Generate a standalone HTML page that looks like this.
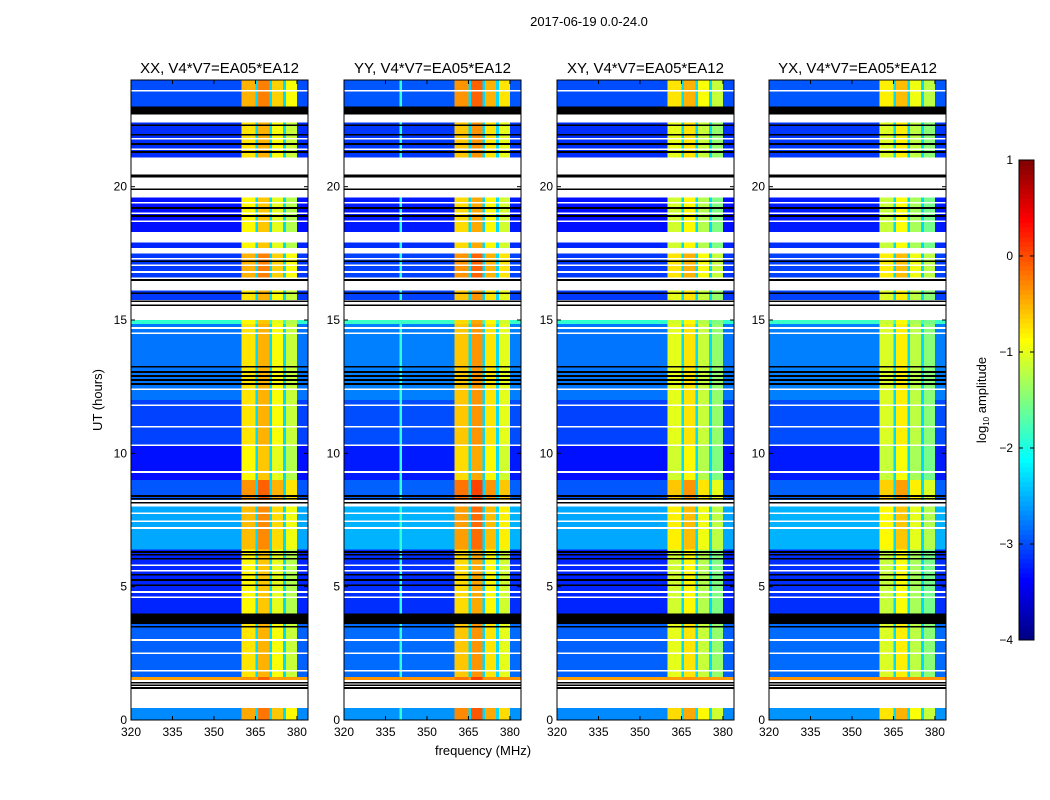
<!DOCTYPE html>
<html><head><meta charset="utf-8"><style>
body{margin:0;background:#fff;}
svg{display:block;font-family:"Liberation Sans","DejaVu Sans",sans-serif;}
</style></head><body>
<svg id="fig" width="1050" height="800" viewBox="0 0 1050 800" xmlns="http://www.w3.org/2000/svg">
<rect width="1050" height="800" fill="#fff"/>
<text x="589" y="26" font-size="13" text-anchor="middle">2017-06-19 0.0-24.0</text>
<text transform="translate(102,400) rotate(-90)" font-size="13" text-anchor="middle">UT (hours)</text>
<text x="483" y="755" font-size="13" text-anchor="middle">frequency (MHz)</text>
<g id="panels"></g>
<g id="cbar"></g>
</svg>
<script>
// ---- data ----
const panelTitles = ["XX, V4*V7=EA05*EA12","YY, V4*V7=EA05*EA12","XY, V4*V7=EA05*EA12","YX, V4*V7=EA05*EA12"];
const xTicks = [320,335,350,365,380];
const yTicks = [0,5,10,15,20];
const cbarTicks = [1,0,-1,-2,-3,-4];
// time segments (hours): start, end, background log10 level (null = flagged/white), band boost
const segStart = [23.0, 22.7, 22.4, 21.1, 19.6, 18.3, 17.9, 17.7, 17.5, 16.6, 16.1, 15.75, 15.0, 14.85, 12.0, 10.3, 9.0, 8.25, 8.0, 6.4, 4.0, 1.62, 1.5, 0.45, 0.0];
const segEnd   = [24.0, 23.0, 22.7, 22.4, 21.1, 19.6, 18.3, 17.9, 17.7, 17.5, 16.6, 16.1, 15.75, 15.0, 14.85, 12.0, 10.3, 9.0, 8.25, 8.0, 6.4, 4.0, 1.62, 1.5, 0.45];
const segLevel = [-3.0, null, null, -3.15, null, -3.3, null, -3.2, null, -3.1, null, -3.1, null, -1.9, -2.8, -3.05, -3.3, -2.95, null, -2.55, -3.2, -2.9, -0.4, null, -2.7];
const segBand  = [0.35, 0, 0, 0.1, 0, 0.0, 0, 0.0, 0, 0.35, 0, 0.1, 0, 0.0, 0.1, 0.1, 0.0, 0.5, 0, 0.3, 0.0, 0.1, 0.5, 0, 0.4];
const blackBands = [[22.7,23.0],[20.35,20.45],[3.6,4.0]];
const blackLines = [22.3,21.95,21.6,21.3,19.9,19.2,18.9,17.2,16.5,16.0,15.7,15.55,13.25,13.05,12.9,12.75,12.6,8.4,8.3,8.15,6.3,6.2,6.05,5.45,5.25,5.05,3.5,1.4,1.3,1.2];
const whiteLines = [23.6,21.8,21.4,19.4,19.0,18.7,17.3,17.05,16.8,14.7,14.5,12.4,11.8,11.0,10.3,9.3,7.75,7.45,7.2,5.8,5.6,4.8,4.6,3.0,2.5,1.85];
// band spectral shape (channels 320..383, 1 MHz)
const bandStart = [360,366,371,376];
const bandEnd   = [364,369,374,379];
const bandLevel = [-0.85,-0.6,-1.0,-1.25];
const panelBandShift = [0.0,0.15,-0.25,-0.3];
const panelBgShift = [0.0,0.05,0.0,0.05];
// ---- render ----
const NS="http://www.w3.org/2000/svg";
const panelX=[131,344,557,769], PW=177, PT=80, PB=720;
const fx=(p,f)=>panelX[p]+(f-320)*PW/64;
const ty=h=>PB-(h)*(PB-PT)/24;
function jet(v){let t=(v+4)/5;t=Math.max(0,Math.min(1,t));
 const c=x=>Math.round(255*Math.max(0,Math.min(1,x)));
 const r=1.5-Math.abs(4*t-3),g=1.5-Math.abs(4*t-2),b=1.5-Math.abs(4*t-1);
 return `rgb(${c(r)},${c(g)},${c(b)})`;}
function mk(tag,attrs,parent){const e=document.createElementNS(NS,tag);for(const k in attrs)e.setAttribute(k,attrs[k]);parent.appendChild(e);return e;}
const root=document.getElementById('panels');
for(let p=0;p<4;p++){
 const g=mk('g',{},root);
 
 
 const hm=mk('g',{'shape-rendering':'crispEdges'},g);
 
 
 mk('rect',{x:panelX[p],y:PT,width:PW,height:PB-PT,fill:'#fff'},hm);
 for(let s=0;s<segStart.length;s++){
  if(segLevel[s]===null)continue;
  const y0=ty(segEnd[s]),y1=ty(segStart[s]);
  const bg=segLevel[s]+panelBgShift[p];
  for(let ch=320;ch<384;ch++){
   let v=bg;
   for(let b=0;b<bandStart.length;b++){if(ch>=bandStart[b]&&ch<=bandEnd[b])v=Math.max(v,bandLevel[b]+segBand[s]+panelBandShift[p]);}
   if(ch===365||ch===370||ch===375)v=Math.max(bg,-2.3);
   if(p===1&&ch===340)v=Math.max(v,-1.9);
   const cell=mk('rect',{x:fx(p,ch),y:y0,width:PW/64+0.3,height:y1-y0,fill:jet(v)},hm);
   
   
  }
 }
 for(const h of whiteLines){const l=mk('rect',{x:panelX[p],y:ty(h)-0.8,width:PW,height:1.6,fill:'#fff'},hm);
  }
 for(const h of blackLines){const l=mk('rect',{x:panelX[p],y:ty(h)-0.8,width:PW,height:1.6,fill:'#000'},hm);
  }
 for(const bb of blackBands){const l=mk('rect',{x:panelX[p],y:ty(bb[1]),width:PW,height:ty(bb[0])-ty(bb[1]),fill:'#000'},hm);
  }
 const fr=mk('rect',{x:panelX[p],y:PT,width:PW,height:PB-PT,fill:'none',stroke:'#000','stroke-width':1},g);
 
 const t=mk('text',{x:panelX[p]+PW/2,y:73,'font-size':15,'text-anchor':'middle'},g);t.textContent=panelTitles[p];
 
 for(const f of xTicks){const x=fx(p,f);
  mk('line',{x1:x,x2:x,y1:PB,y2:PB-4,stroke:'#000'},g);mk('line',{x1:x,x2:x,y1:PT,y2:PT+4,stroke:'#000'},g);
  const l=mk('text',{x:x,y:PB+16,'font-size':12,'text-anchor':'middle'},g);l.textContent=f;
  }
 for(const h of yTicks){const y=ty(h);
  mk('line',{x1:panelX[p],x2:panelX[p]+4,y1:y,y2:y,stroke:'#000'},g);mk('line',{x1:panelX[p]+PW,x2:panelX[p]+PW-4,y1:y,y2:y,stroke:'#000'},g);
  const l=mk('text',{x:panelX[p]-4,y:y+4,'font-size':12,'text-anchor':'end'},g);l.textContent=h;
  }
}
// colorbar
const cb=document.getElementById('cbar');
const CX=1019,CW=15,CT=160,CB=640;
const cy=v=>CB-(v+4)*(CB-CT)/5;
for(let i=0;i<100;i++){const v=-4+i*0.05;
 mk('rect',{x:CX,y:cy(v+0.05),width:CW,height:(CB-CT)/100+0.5,fill:jet(v+0.025),'shape-rendering':'crispEdges'},cb);}
mk('rect',{x:CX,y:CT,width:CW,height:CB-CT,fill:'none',stroke:'#000'},cb);
for(const v of cbarTicks){const y=cy(v);
 mk('line',{x1:CX,x2:CX+4,y1:y,y2:y,stroke:'#000'},cb);mk('line',{x1:CX+CW,x2:CX+CW-4,y1:y,y2:y,stroke:'#000'},cb);
 const l=mk('text',{x:1013,y:y+4,'font-size':12,'text-anchor':'end'},cb);l.textContent=(v<0?'\u2212'+(-v):v);
 }
const cl=mk('text',{transform:'translate(986,400) rotate(-90)','font-size':13,'text-anchor':'middle'},cb);
cl.innerHTML='log<tspan font-size="8" dy="3">10</tspan><tspan dy="-3"> amplitude</tspan>';


</script>
</body></html>
